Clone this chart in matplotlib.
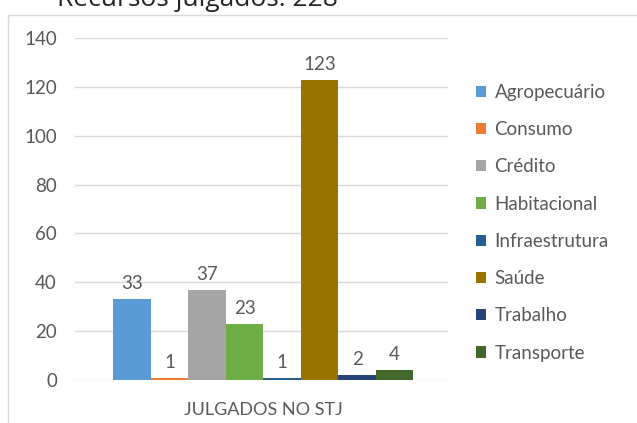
import matplotlib.pyplot as plt
from matplotlib.lines import Line2D
from matplotlib.patches import Patch

# dados
categorias = ['Agropecuário', 'Consumo', 'Crédito', 'Habitacional',
              'Infraestrutura', 'Saúde', 'Trabalho', 'Transporte']
valores = [33, 1, 37, 23, 1, 123, 2, 4]
cores = ['#5B9BD5', '#ED7D31', '#A5A5A5', '#70AD47',
         '#255E91', '#997300', '#264478', '#43682B']
grupo = 'JULGADOS NO STJ'
titulo = 'Recursos julgados: 228'
yticks = [0, 20, 40, 60, 80, 100, 120, 140]

W, H = 637, 423
fig = plt.figure(figsize=(W / 100, H / 100), dpi=100)
plt.rcParams['font.family'] = ['Lato', 'DejaVu Sans']
cinza = '#595959'

# área do gráfico (pixels -> fração)
esq, dir_, topo, base = 75, 448, 38, 380
ax = fig.add_axes([esq / W, 1 - base / H, (dir_ - esq) / W, (base - topo) / H])

n = len(valores)
xs = [i - (n - 1) / 2 for i in range(n)]
ax.bar(xs, valores, width=1.0, color=cores, zorder=3)
for x, v in zip(xs, valores):
    ax.annotate(str(v), (x, v), xytext=(0, 5), textcoords='offset points',
                ha='center', va='bottom', fontsize=13.5, color=cinza)

ax.set_ylim(0, 140)
meia = n / 2 * (dir_ - esq) / 300.0
ax.set_xlim(-meia - 0.05, meia - 0.05)
ax.set_yticks(yticks)
ax.set_xticks([0])
ax.set_xticklabels([grupo])
ax.tick_params(axis='y', length=0, labelsize=13.5, labelcolor=cinza, pad=13)
ax.tick_params(axis='x', length=0, labelsize=13, labelcolor=cinza, pad=16)
ax.grid(axis='y', color='#D9D9D9', linewidth=1, zorder=0)
for s in ax.spines.values():
    s.set_visible(False)

# legenda
handles = [Patch(facecolor=c, edgecolor='none') for c in cores]
fig.legend(handles, categorias, loc='upper left',
           bbox_to_anchor=(459 / W, 1 - 67 / H), frameon=False,
           fontsize=13.5, labelcolor=cinza, handlelength=0.55,
           handleheight=0.55, handletextpad=0.45, labelspacing=1.08)

# moldura do gráfico
cor_borda = '#D9D9D9'
fig.add_artist(Line2D([8 / W, 1], [1 - 15 / H, 1 - 15 / H], color=cor_borda, lw=1))
fig.add_artist(Line2D([8 / W, 8 / W], [0, 1 - 15 / H], color=cor_borda, lw=1))

# título (cortado no topo, como no original)
fig.text(57 / W, 1 - 6 / H, titulo, fontsize=19, color='#262626',
         ha='left', va='baseline', family=['Open Sans', 'DejaVu Sans'])

fig.savefig('out.png', dpi=100)
